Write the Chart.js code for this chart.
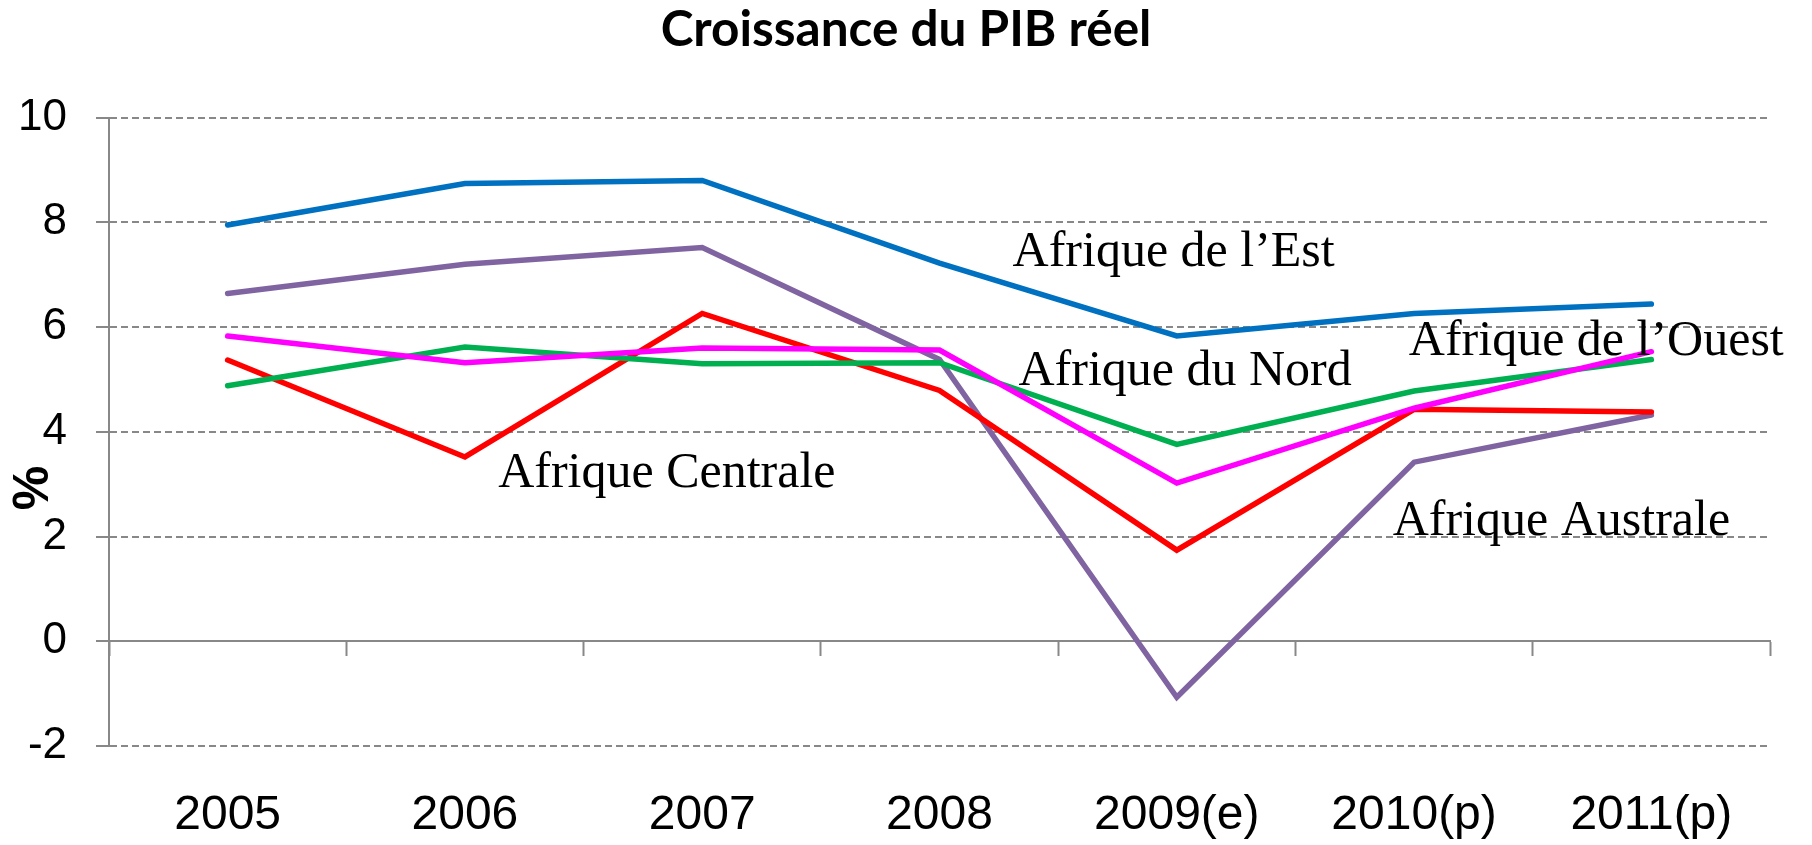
<!DOCTYPE html>
<html>
<head>
<meta charset="utf-8">
<script src="https://cdn.jsdelivr.net/npm/chart.js@4.4.0/dist/chart.umd.min.js"></script>
<style>
  html, body { margin: 0; padding: 0; background: #fff; }
  #wrap { width: 1812px; height: 845px; position: relative; }
</style>
</head>
<body>
<div id="wrap"><canvas id="c"></canvas></div>
<script>
// ---- Data ----
const categories = ['2005', '2006', '2007', '2008', '2009(e)', '2010(p)', '2011(p)'];
const afriqueEst      = [7.95, 8.74, 8.80, 7.22, 5.83, 6.26, 6.44];
const afriqueAustrale = [6.64, 7.20, 7.52, 5.38, -1.07, 3.42, 4.32];
const afriqueCentrale = [5.37, 3.52, 6.26, 4.79, 1.74, 4.43, 4.38];
const afriqueOuest    = [5.83, 5.32, 5.60, 5.56, 3.02, 4.45, 5.53];
const afriqueNord     = [4.88, 5.62, 5.30, 5.32, 3.76, 4.78, 5.38];
const yTicks = [-2, 0, 2, 4, 6, 8, 10];

const seriesNames = ['Afrique de l\u2019Est', 'Afrique Australe', 'Afrique Centrale', 'Afrique de l\u2019Ouest', 'Afrique du Nord'];
const titleText = 'Croissance du PIB r\u00e9el';
const yAxisLabel = '%';

// in-chart series labels, anchored to (category index, value)
const labelTexts = ['Afrique de l\u2019Est', 'Afrique du Nord', 'Afrique de l\u2019Ouest', 'Afrique Centrale', 'Afrique Australe'];
const labelIdx   = [3.308, 3.333, 4.978, 1.140, 4.910];
const labelVal   = [7.17, 4.89, 5.46, 2.95, 2.02];

const GRID = '#888888';

const annotations = {
  id: 'annotations',
  afterDatasetsDraw(chart) {
    const ctx = chart.ctx;
    const xs = chart.scales.x, ys = chart.scales.y;
    ctx.save();
    ctx.fillStyle = '#000';
    ctx.font = '50px "Liberation Serif", "Times New Roman", serif';
    ctx.textAlign = 'left';
    ctx.textBaseline = 'alphabetic';
    for (let i = 0; i < labelTexts.length; i++) {
      ctx.fillText(labelTexts[i], xs.getPixelForValue(labelIdx[i]), ys.getPixelForValue(labelVal[i]));
    }
    // rotated y-axis label
    ctx.translate(34, 488);
    ctx.rotate(-Math.PI / 2);
    ctx.font = 'bold 50px "Liberation Sans", Arial, sans-serif';
    ctx.textAlign = 'center';
    ctx.textBaseline = 'middle';
    ctx.fillText(yAxisLabel, 0, 0);
    ctx.restore();
  }
};

const common = { fill: false, pointRadius: 0, pointHoverRadius: 0, borderWidth: 5.5, tension: 0,
                 borderJoinStyle: 'miter', borderCapStyle: 'round' };

new Chart(document.getElementById('c'), {
  type: 'line',
  data: {
    labels: categories,
    datasets: [
      Object.assign({ label: seriesNames[3], data: afriqueOuest,    borderColor: '#FF00FF' }, common),
      Object.assign({ label: seriesNames[4], data: afriqueNord,     borderColor: '#00B050' }, common),
      Object.assign({ label: seriesNames[2], data: afriqueCentrale, borderColor: '#FF0000' }, common),
      Object.assign({ label: seriesNames[1], data: afriqueAustrale, borderColor: '#8064A2' }, common),
      Object.assign({ label: seriesNames[0], data: afriqueEst,      borderColor: '#0070C0' }, common)
    ]
  },
  options: {
    animation: false,
    responsive: true,
    maintainAspectRatio: false,
    layout: { padding: { left: 0, right: 0, top: 0, bottom: 0 } },
    plugins: {
      legend: { display: false },
      tooltip: { enabled: false },
      title: {
        display: true,
        text: titleText,
        color: '#000',
        font: { family: 'Lato, "Open Sans", sans-serif', weight: 'bold', size: 49.5, lineHeight: 1.2 },
        padding: { top: 0, bottom: 58.2 }
      }
    },
    scales: {
      x: {
        type: 'category',
        position: 'bottom',
        offset: true,
        grid: { display: false, drawTicks: false },
        border: { display: false },
        ticks: { color: '#000', font: { family: '"Liberation Sans", Arial, sans-serif', size: 48 }, padding: 41, maxRotation: 0, autoSkip: false },
        afterFit(s) { s.height = 99; }
      },
      x0: {
        type: 'category',
        position: { y: 0 },
        offset: true,
        grid: { display: true, offset: true, drawOnChartArea: false, drawTicks: true, tickLength: 14, tickColor: GRID, tickWidth: 2 },
        border: { display: true, color: GRID, width: 2 },
        ticks: { display: false },
        afterFit(s) { s.height = 0; }
      },
      y: {
        min: -2, max: 10,
        afterBuildTicks(s) { s.ticks = yTicks.map(v => ({ value: v })); },
        ticks: { color: '#000', font: { family: '"Liberation Sans", Arial, sans-serif', size: 44 }, padding: 29 },
        grid: {
          color: c => (c.tick && c.tick.value === 0) ? 'rgba(0,0,0,0)' : GRID,
          lineWidth: 2, tickLength: 13, tickColor: GRID, tickWidth: 2, tickBorderDash: []
        },
        border: { display: true, color: GRID, width: 2, dash: [7, 4] },
        afterFit(s) { s.width = 109; }
      },
      yR: {
        type: 'linear',
        position: 'right',
        min: -2, max: 10,
        grid: { display: false, drawTicks: false },
        border: { display: false },
        ticks: { display: false },
        afterFit(s) { s.width = 42; }
      }
    }
  },
  plugins: [annotations]
});
</script>
</body>
</html>
